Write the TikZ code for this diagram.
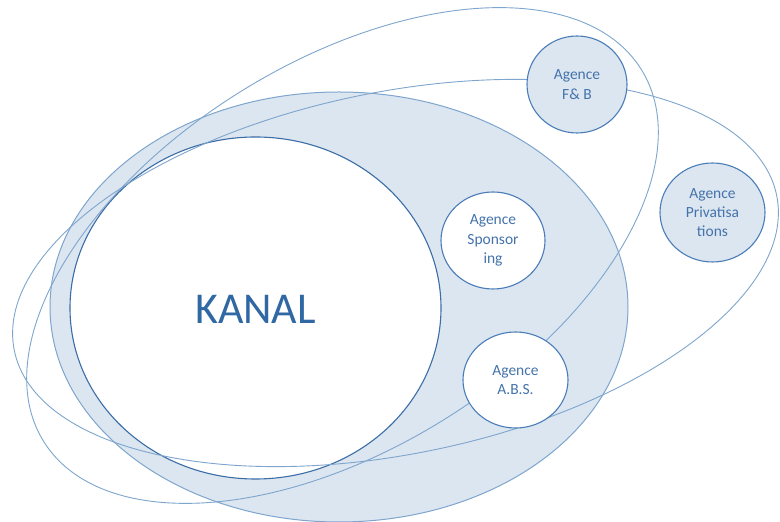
\documentclass[tikz,border=0pt]{standalone}
\usepackage{fontspec}
\setmainfont{Carlito}
\usetikzlibrary{shapes.geometric}
\definecolor{ringfill}{HTML}{DCE6F0}
\definecolor{thinline}{HTML}{7EA5CD}
\definecolor{circline}{HTML}{4A7DB8}
\definecolor{kanalline}{HTML}{3B6DA6}
\definecolor{txtblue}{HTML}{4473AB}
\definecolor{kanaltxt}{HTML}{2F68A3}
\tikzset{
  thinring/.style={draw=thinline, line width=0.9pt},
  agency/.style={ellipse, draw=circline, line width=1.1pt, inner sep=0pt,
    text=txtblue, align=center, font=\fontsize{15.5}{19.3}\selectfont},
  bluecirc/.style={agency, fill=ringfill},
  whitecirc/.style={agency, fill=white},
}
\begin{document}
\begin{tikzpicture}[x=1pt,y=1pt]
\useasboundingbox (0,0) rectangle (780,522);
% shaded ring
\draw[draw=thinline, line width=1pt, fill=ringfill] (339,215) ellipse [x radius=289, y radius=215];
% KANAL
\node[ellipse, draw=kanalline, line width=1.1pt, fill=white, inner sep=0pt,
  minimum width=371, minimum height=342] (kanal) at (255.5,214) {};
\node[text=kanaltxt, font=\fontsize{44}{48}\selectfont, inner sep=0pt] (kanaltext) at (255.5,213) {KANAL};
% tilted thin ellipses
\draw[thinring, shift={(342.5,266.5)}, rotate=31.9] (0,0) ellipse [x radius=352, y radius=193];
\draw[thinring, shift={(395.5,249)}, rotate=11.5] (0,0) ellipse [x radius=389, y radius=181];
% agencies
\node[bluecirc, minimum width=100, minimum height=97] (fb) at (577,437.5) {Agence\\F\& B};
\node[bluecirc, minimum width=105, minimum height=99] (priv) at (712.5,309.5) {Agence\\Privatisa\\tions};
\node[whitecirc, minimum width=104, minimum height=97] (spons) at (493,281.5) {Agence\\Sponsor\\ing};
\node[whitecirc, minimum width=105, minimum height=96] (abs) at (515.5,142) {Agence\\A.B.S.};
\end{tikzpicture}
\end{document}
